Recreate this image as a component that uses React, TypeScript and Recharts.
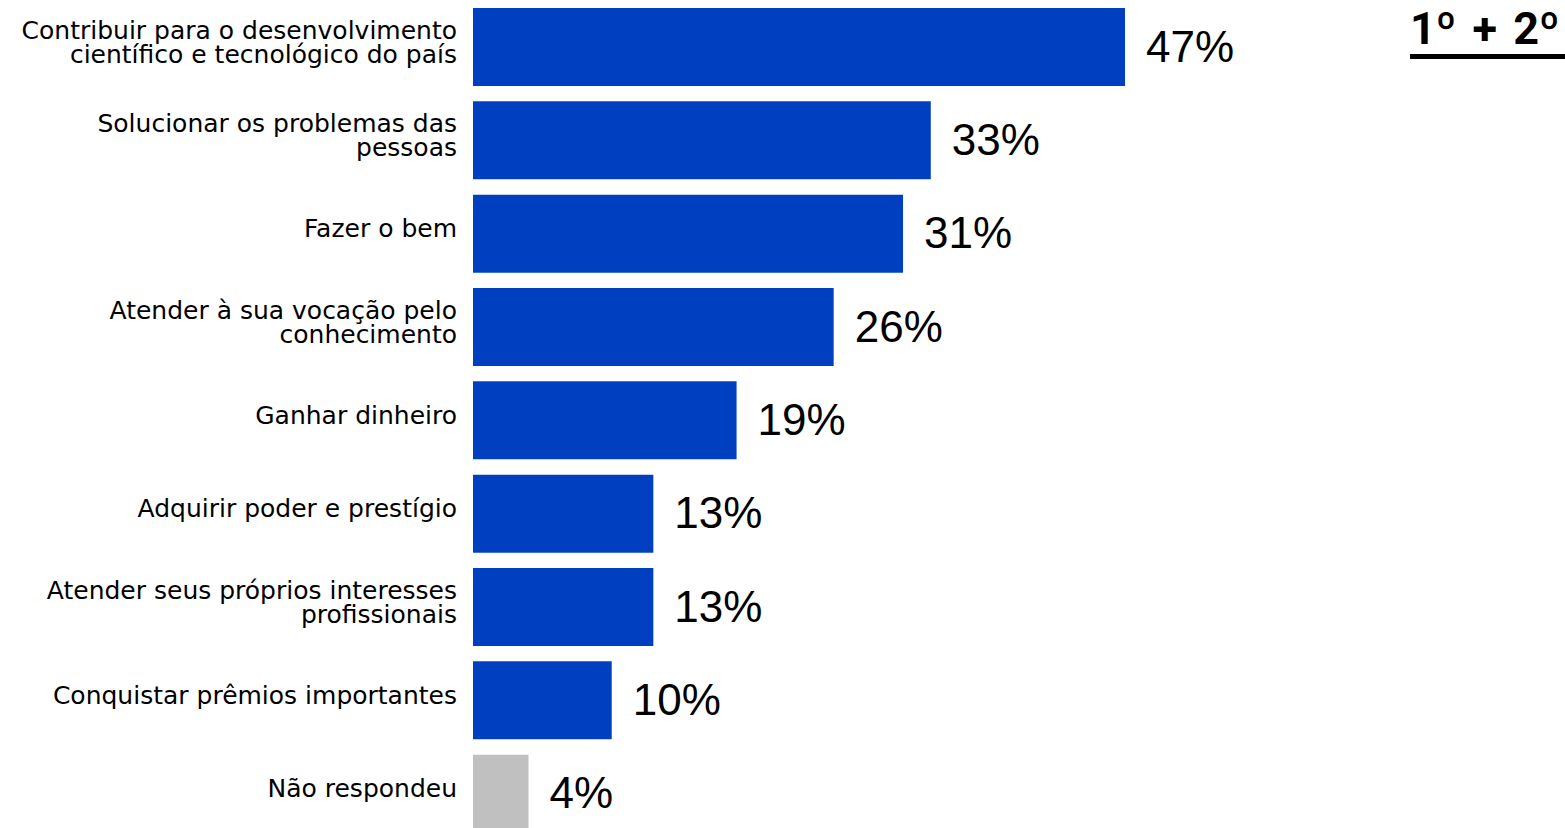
import { BarChart, Bar, XAxis, YAxis, Cell, LabelList } from 'recharts';

const categories = [
  'Contribuir para o desenvolvimento\ncientífico e tecnológico do país',
  'Solucionar os problemas das\npessoas',
  'Fazer o bem',
  'Atender à sua vocação pelo\nconhecimento',
  'Ganhar dinheiro',
  'Adquirir poder e prestígio',
  'Atender seus próprios interesses\nprofissionais',
  'Conquistar prêmios importantes',
  'Não respondeu',
];

const values = [47, 33, 31, 26, 19, 13, 13, 10, 4];

const title = '1º + 2º';

const data = categories.map((name, i) => ({ name, value: values[i] }));

const BLUE = '#0040C0';
const GRAY = '#C0C0C0';

function CategoryTick(props: any) {
  const { x, y, payload } = props;
  const lines = String(payload.value).split('\n');
  const lineH = 24;
  const startY = y - ((lines.length - 1) * lineH) / 2 - 3;
  return (
    <text
      x={x - 8}
      y={startY}
      textAnchor="end"
      fontFamily="'DejaVu Sans', sans-serif"
      fontSize={25}
      fill="#000"
    >
      {lines.map((l, i) => (
        <tspan key={i} x={x - 8} y={startY + i * lineH} dominantBaseline="middle">
          {l}
        </tspan>
      ))}
    </text>
  );
}

function ValueLabel(props: any) {
  const { x, y, width, height, value } = props;
  return (
    <text
      x={x + width + 21}
      y={y + height / 2 + 3}
      dominantBaseline="middle"
      fontFamily="'Liberation Sans', Arial, sans-serif"
      fontSize={44}
      fill="#000"
    >
      {value}%
    </text>
  );
}

export default function App() {
  return (
    <div style={{ position: 'absolute', left: 0, top: 0, width: 1565, height: 828, overflow: 'hidden', background: '#fff' }}>
      <BarChart
        width={1565}
        height={840}
        data={data}
        layout="vertical"
        margin={{ top: 0, right: 440, bottom: 0, left: 0 }}
        barSize={78}
      >
        <XAxis type="number" domain={[0, 47]} hide />
        <YAxis
          type="category"
          dataKey="name"
          width={473}
          axisLine={false}
          tickLine={false}
          tick={<CategoryTick />}
          interval={0}
        />
        <Bar dataKey="value" isAnimationActive={false}>
          {data.map((d, i) => (
            <Cell key={i} fill={d.name === 'Não respondeu' ? GRAY : BLUE} />
          ))}
          <LabelList dataKey="value" content={<ValueLabel />} />
        </Bar>
      </BarChart>
      <div
        style={{
          position: 'absolute',
          left: 1410,
          top: 4,
          width: 155,
          fontFamily: 'Roboto, sans-serif',
          fontWeight: 700,
          fontSize: 45,
          lineHeight: '50px',
          wordSpacing: 5,
          color: '#000',
          whiteSpace: 'nowrap',
          borderBottom: '5px solid #000',
        }}
      >
        {title}
      </div>
    </div>
  );
}
